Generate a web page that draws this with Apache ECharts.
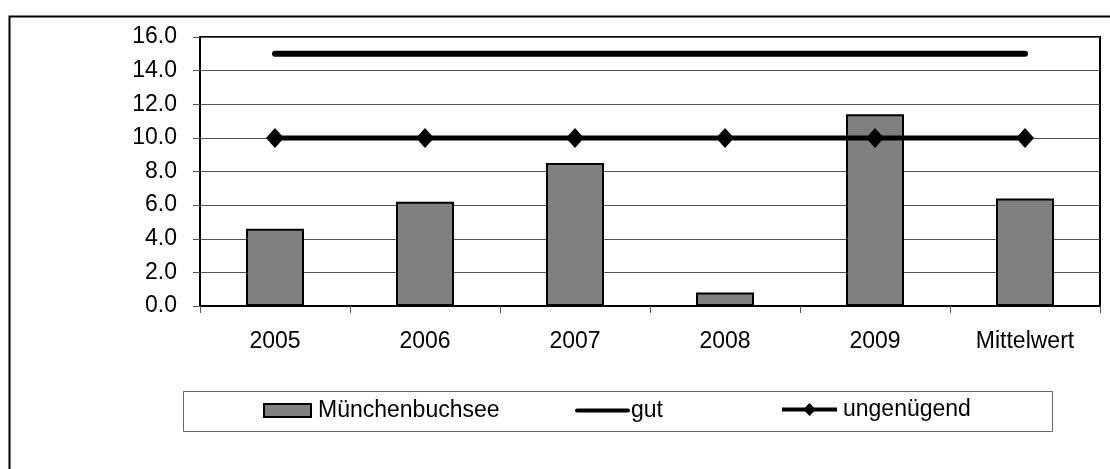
<!DOCTYPE html>
<html>
<head>
<meta charset="utf-8">
<script src="https://cdn.jsdelivr.net/npm/echarts@6/dist/echarts.min.js"></script>
<style>
html,body{margin:0;padding:0;background:#fff;}
#chart{width:1110px;height:469px;}
</style>
</head>
<body>
<div id="chart"></div>
<script>
const categories = ['2005', '2006', '2007', '2008', '2009', 'Mittelwert'];
const muenchenbuchsee = [4.6, 6.2, 8.5, 0.8, 11.4, 6.4];
const gut = [15, 15, 15, 15, 15, 15];
const ungenuegend = [10, 10, 10, 10, 10, 10];
const seriesNames = ['Münchenbuchsee', 'gut', 'ungenügend'];

const FONT = '"Liberation Sans", Arial, sans-serif';
const FS = 23;

const chart = echarts.init(document.getElementById('chart'), null, {renderer: 'canvas'});
chart.setOption({
  animation: false,
  backgroundColor: '#fff',
  textStyle: {fontFamily: FONT, color: '#000'},
  grid: {left: 200, top: 37, right: 10, bottom: 163, show: true, borderColor: '#000', borderWidth: 2, containLabel: false},
  xAxis: {
    type: 'category',
    data: categories,
    boundaryGap: true,
    axisLine: {show: true, lineStyle: {color: '#000', width: 2}},
    axisTick: {show: true, length: 7, lineStyle: {color: '#555', width: 1}},
    axisLabel: {color: '#000', fontFamily: FONT, fontSize: FS, margin: 24},
    splitLine: {show: false}
  },
  yAxis: {
    type: 'value',
    min: 0, max: 16, interval: 2,
    axisLine: {show: true, lineStyle: {color: '#000', width: 2}},
    axisTick: {show: true, length: 7, lineStyle: {color: '#555', width: 1}},
    axisLabel: {color: '#000', fontFamily: FONT, fontSize: FS, margin: 23, formatter: v => v.toFixed(1)},
    splitLine: {show: true, lineStyle: {color: '#555', width: 1}}
  },
  legend: [
    {
      data: [{name: seriesNames[0], icon: 'rect'}],
      left: 263, top: 399, padding: 0,
      itemWidth: 47, itemHeight: 13, itemGap: 0,
      textStyle: {fontFamily: FONT, fontSize: FS, color: '#000', padding: [0, 0, 0, 2]}
    },
    {
      data: [{name: seriesNames[1], itemStyle: {opacity: 0}}],
      left: 575, top: 399, padding: 0,
      itemWidth: 51, itemHeight: 13, itemGap: 0,
      lineStyle: {width: 4, color: '#000'},
      textStyle: {fontFamily: FONT, fontSize: FS, color: '#000', padding: [0, 0, 0, -2]}
    },
    {
      data: [{name: seriesNames[2]}],
      left: 780, top: 398, padding: 0,
      itemWidth: 55, itemHeight: 16, itemGap: 0,
      lineStyle: {width: 4, color: '#000'},
      textStyle: {fontFamily: FONT, fontSize: FS, color: '#000', padding: [0, 0, 0, 1]}
    }
  ],
  graphic: [
    {type: 'rect', left: 7, top: 14, shape: {x: 0, y: 0, width: 1200, height: 600}, style: {fill: null, stroke: '#000', lineWidth: 2}, silent: true, z: 100},
    {type: 'rect', shape: {x: 183.5, y: 391.5, width: 869, height: 40}, style: {fill: null, stroke: '#666', lineWidth: 1}, silent: true, z: 100}
  ],
  series: [
    {
      name: seriesNames[0],
      type: 'bar',
      data: muenchenbuchsee,
      barWidth: 58,
      itemStyle: {color: '#808080', borderColor: '#000', borderWidth: 2},
      z: 2
    },
    {
      name: seriesNames[1],
      type: 'line',
      data: gut,
      symbol: 'none',
      lineStyle: {color: '#000', width: 6, cap: 'round'},
      itemStyle: {color: '#000'},
      z: 3
    },
    {
      name: seriesNames[2],
      type: 'line',
      data: ungenuegend,
      symbol: 'diamond',
      symbolSize: [18, 20],
      lineStyle: {color: '#000', width: 5},
      itemStyle: {color: '#000'},
      z: 4
    }
  ]
});
</script>
</body>
</html>
